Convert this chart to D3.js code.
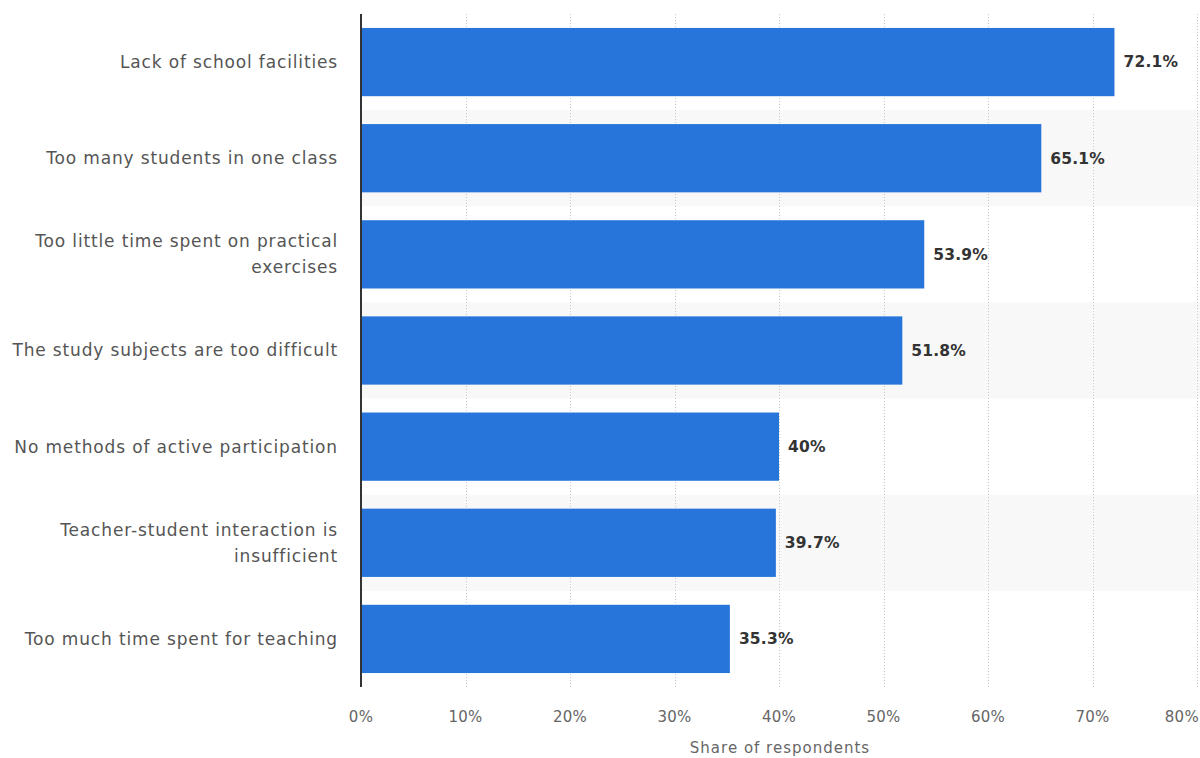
<!DOCTYPE html>
<html>
<head>
<meta charset="utf-8">
<script src="https://cdn.jsdelivr.net/npm/d3@7"></script>
<style>
  body { margin: 0; background: #fff; }
  svg text { font-family: "DejaVu Sans", Verdana, sans-serif; }
</style>
</head>
<body>
<svg id="chart" width="1200" height="758"></svg>
<script>
var categories = [
  ["Lack of school facilities"],
  ["Too many students in one class"],
  ["Too little time spent on practical", "exercises"],
  ["The study subjects are too difficult"],
  ["No methods of active participation"],
  ["Teacher-student interaction is", "insufficient"],
  ["Too much time spent for teaching"]
];
var values = [72.1, 65.1, 53.9, 51.8, 40, 39.7, 35.3];
var ticks = [0, 10, 20, 30, 40, 50, 60, 70, 80];

var plotLeft = 361, plotRight = 1197, plotTop = 14, plotBottom = 687;
var svg = d3.select("#chart");

var x = d3.scaleLinear().domain([0, 80]).range([plotLeft, plotRight]);
var y = d3.scaleBand().domain(d3.range(values.length)).range([plotTop, plotBottom]).paddingInner(0.29).paddingOuter(0.145);
var row = d3.scaleBand().domain(d3.range(values.length)).range([plotTop, plotBottom]);

// alternating row bands
svg.append("g").selectAll("rect").data(d3.range(values.length).filter(function(i){ return i % 2 == 1; }))
  .enter().append("rect")
  .attr("x", plotLeft).attr("width", 1200 - plotLeft)
  .attr("y", function(i){ return row(i); })
  .attr("height", row.bandwidth())
  .attr("fill", "#f8f8f8");

// grid
svg.append("g").selectAll("line").data(ticks.slice(1)).enter().append("line")
  .attr("x1", function(d){ return Math.round(x(d)) + 0.5; })
  .attr("x2", function(d){ return Math.round(x(d)) + 0.5; })
  .attr("y1", plotTop).attr("y2", plotBottom)
  .attr("stroke", "#c8c8c8").attr("stroke-width", 1)
  .attr("stroke-dasharray", "1,2");

// bars
svg.append("g").selectAll("rect").data(values).enter().append("rect")
  .attr("x", plotLeft)
  .attr("y", function(d, i){ return y(i); })
  .attr("width", function(d){ return x(d) - plotLeft; })
  .attr("height", y.bandwidth())
  .attr("fill", "#2775db");

// value labels
svg.append("g").selectAll("text").data(values).enter().append("text")
  .attr("x", function(d){ return x(d) + 9; })
  .attr("y", function(d, i){ return y(i) + y.bandwidth() / 2; })
  .attr("dy", "0.35em")
  .attr("font-size", 15.5).attr("font-weight", "bold")
  .attr("letter-spacing", 0.2)
  .attr("fill", "#333")
  .text(function(d){ return d + "%"; });

// category labels
var cat = svg.append("g").selectAll("text").data(categories).enter().append("text")
  .attr("text-anchor", "end")
  .attr("font-size", 17)
  .attr("letter-spacing", 0.85)
  .attr("fill", "#555")
  .attr("transform", function(d, i){ return "translate(338," + (row(i) + row.bandwidth() / 2) + ")"; });
cat.selectAll("tspan").data(function(d){ return d; }).enter().append("tspan")
  .attr("x", 0)
  .attr("y", function(d, j, nodes){ return (j - (nodes.length - 1) / 2) * 26; })
  .attr("dy", "0.35em")
  .text(function(d){ return d; });

// axis line
svg.append("line")
  .attr("x1", plotLeft).attr("x2", plotLeft)
  .attr("y1", plotTop).attr("y2", plotBottom)
  .attr("stroke", "#333").attr("stroke-width", 2);

// x tick labels (last one pulled in so it stays on the page)
svg.append("g").selectAll("text").data(ticks).enter().append("text")
  .attr("x", function(d){ return d == 80 ? 1199 : x(d); })
  .attr("y", 722)
  .attr("text-anchor", function(d){ return d == 80 ? "end" : "middle"; })
  .attr("font-size", 15)
  .attr("letter-spacing", 0.3)
  .attr("fill", "#666")
  .text(function(d){ return d + "%"; });

svg.append("text")
  .attr("x", (plotLeft + plotRight) / 2 + 1).attr("y", 753)
  .attr("text-anchor", "middle")
  .attr("font-size", 15)
  .attr("letter-spacing", 1)
  .attr("fill", "#666")
  .text("Share of respondents");
</script>
</body>
</html>
